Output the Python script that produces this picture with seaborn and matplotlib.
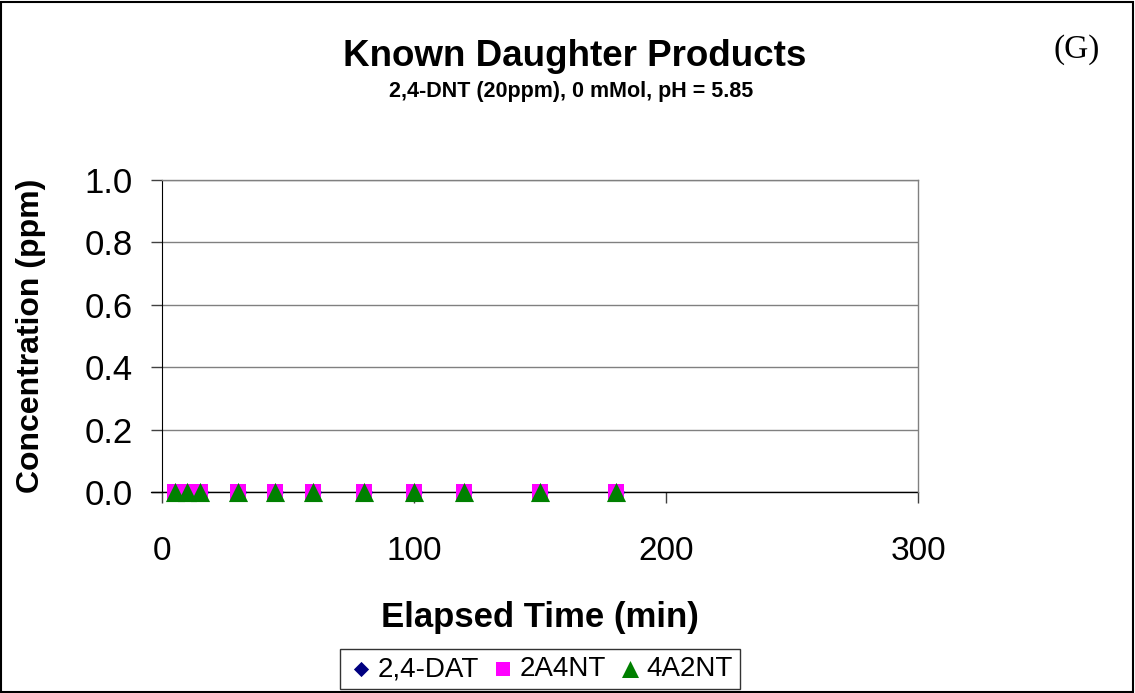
import matplotlib
matplotlib.use("Agg")
import matplotlib.pyplot as plt
import seaborn as sns
import pandas as pd
from matplotlib.patches import Rectangle

times = [5, 10, 15, 30, 45, 60, 80, 100, 120, 150, 180]
dat_24 = [0, 0, 0, 0, 0, 0, 0, 0, 0, 0, 0]
a2_4nt = [0, 0, 0, 0, 0, 0, 0, 0, 0, 0, 0]
a4_2nt = [0, 0, 0, 0, 0, 0, 0, 0, 0, 0, 0]
series_names = ["2,4-DAT", "2A4NT", "4A2NT"]
x_ticks = [0, 100, 200, 300]
y_ticks = [0.0, 0.2, 0.4, 0.6, 0.8, 1.0]

df = pd.DataFrame({
    "time": times * 3,
    "conc": dat_24 + a2_4nt + a4_2nt,
    "series": sum([[n] * len(times) for n in series_names], []),
})

sns.set_style("white")
plt.rcParams['font.family'] = ['Liberation Sans', 'DejaVu Sans']
plt.rcParams['text.color'] = 'black'
plt.rcParams['axes.labelcolor'] = 'black'
plt.rcParams['xtick.color'] = 'black'
plt.rcParams['ytick.color'] = 'black'

fig = plt.figure(figsize=(11.35, 6.93), dpi=100)
W, H = 1135, 693
ax = fig.add_axes([162 / W, 1 - 492 / H, (918 - 162) / W, (492 - 180) / H])

palette = {"2,4-DAT": "#000080", "2A4NT": "#FF00FF", "4A2NT": "#008000"}
markers = {"2,4-DAT": "D", "2A4NT": "s", "4A2NT": "^"}
sizes = {"2,4-DAT": 80, "2A4NT": 140, "4A2NT": 190}
leg_sizes = {"2,4-DAT": 60, "2A4NT": 110, "4A2NT": 150}
for name in series_names:
    sub = df[df.series == name]
    sns.scatterplot(data=sub, x="time", y="conc", ax=ax, color=palette[name],
                    marker=markers[name], s=sizes[name], linewidth=0,
                    label=name, clip_on=False, zorder=3)

ax.set_xlim(0, 300)
ax.set_ylim(0, 1.0)
ax.set_xticks(x_ticks)
ax.set_yticks(y_ticks)
ax.set_xticklabels([str(v) for v in x_ticks], fontsize=24)
ax.set_yticklabels([f"{v:.1f}" for v in y_ticks], fontsize=25)
ax.yaxis.grid(True, color="#808080", linewidth=1)
ax.xaxis.grid(False)
for s in ["top", "right"]:
    ax.spines[s].set_color("#808080")
    ax.spines[s].set_linewidth(1)
ax.spines["left"].set_color("black")
ax.spines["bottom"].set_visible(False)
ax.axhline(0, color="black", lw=1, zorder=2, xmin=-0.015, clip_on=False)
ax.tick_params(axis="both", direction="out", length=8, width=1, color="#404040",
               bottom=True, left=True)
ax.tick_params(axis="y", pad=13)
ax.tick_params(axis="x", pad=24)

ax.set_xlabel("Elapsed Time (min)", fontsize=25, fontweight="bold", labelpad=24)
ax.set_ylabel("Concentration (ppm)", fontsize=23, fontweight="bold", labelpad=28)

fig.text(575 / W, 1 - 56 / H, "Known Daughter Products", ha="center", va="center",
         fontsize=26.5, fontweight="bold")
fig.text(571 / W, 1 - 91 / H, "2,4-DNT (20ppm), 0 mMol, pH = 5.85", ha="center",
         va="center", fontsize=15.5, fontweight="bold")
fig.text(1077 / W, 1 - 50 / H, "(G)", ha="center", va="center", fontsize=24,
         family=["Liberation Serif", "DejaVu Serif"])

leg = ax.legend(loc="center", bbox_to_anchor=(540 / W, 1 - 669 / H),
                bbox_transform=fig.transFigure, ncol=3, frameon=True, fontsize=20,
                handletextpad=0.1, columnspacing=0.35, borderpad=0.25,
                handlelength=1.0, fancybox=False, edgecolor="black")
leg.get_frame().set_linewidth(1)
for h, name in zip(leg.legend_handles, series_names):
    h.set_sizes([leg_sizes[name]])

fig.patches.append(Rectangle((1 / W, 1 / H), 1 - 3 / W, 1 - 3 / H, transform=fig.transFigure,
                             fill=False, edgecolor="black", linewidth=1.5))

fig.savefig("out.png", dpi=100, facecolor="white")
